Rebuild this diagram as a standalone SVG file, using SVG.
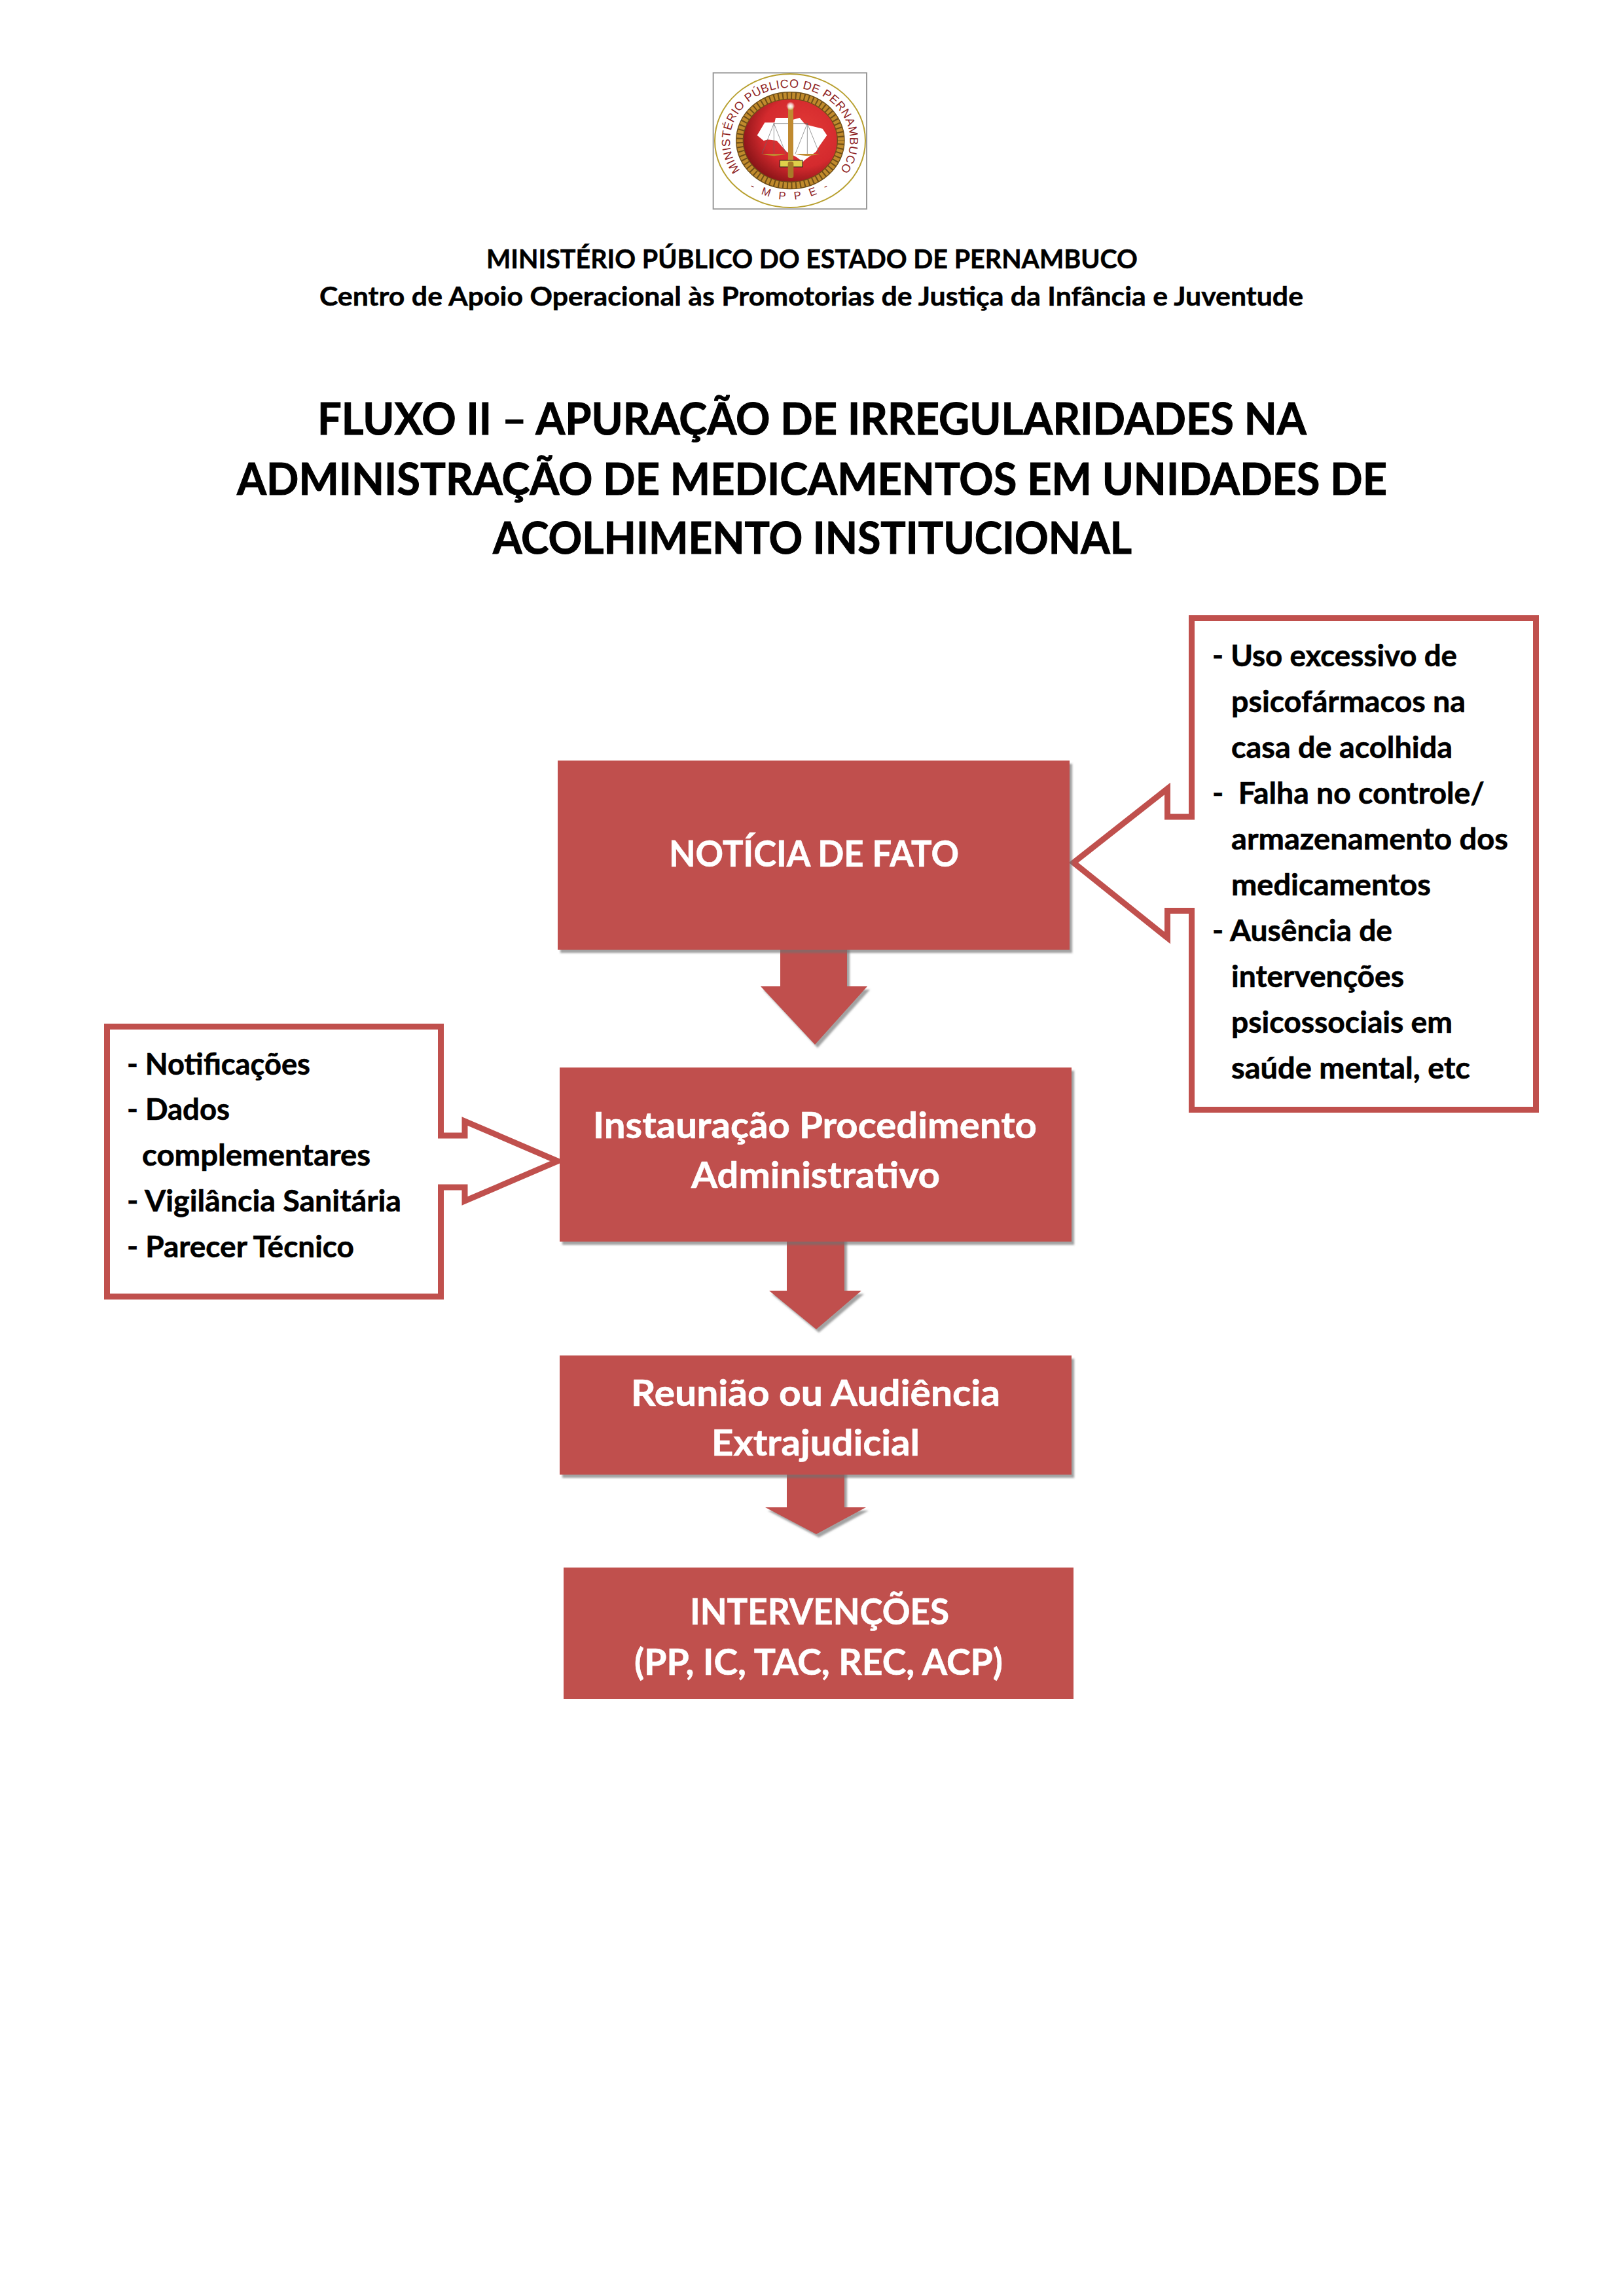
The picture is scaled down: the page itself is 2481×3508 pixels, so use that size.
<svg xmlns="http://www.w3.org/2000/svg" xmlns:xlink="http://www.w3.org/1999/xlink" width="2481" height="3508" viewBox="0 0 2481 3508">
<style>
text{font-family:"Lato","Carlito","Open Sans","Liberation Sans",sans-serif;font-weight:700}
.hd{font-size:40px;fill:#000;stroke:#000;stroke-width:.5}
.ti{font-size:66px;fill:#000;stroke:#000;stroke-width:1}
.bx{font-size:55px;fill:#fff;stroke:#fff;stroke-width:.6}
.ls{font-size:45px;fill:#000;stroke:#000;stroke-width:.6}
.box{fill:#C0504D}
.call{fill:#fff;stroke:#C0504D;stroke-width:9;stroke-linejoin:miter;stroke-miterlimit:10}
.lg{font-family:"Liberation Sans",Arial,sans-serif;font-weight:400;fill:#8f1f24}
</style>
<defs>
<filter id="sh" x="-5%" y="-5%" width="110%" height="115%"><feDropShadow dx="4" dy="5" stdDeviation="1.5" flood-color="#6f6f6f" flood-opacity="0.65"/></filter>
<radialGradient id="red" cx="0.62" cy="0.4" r="0.72"><stop offset="0" stop-color="#e23a36"/><stop offset="0.55" stop-color="#d42a2e"/><stop offset="0.85" stop-color="#8a1418"/><stop offset="1" stop-color="#3a0808"/></radialGradient>
<radialGradient id="glow"><stop offset="0" stop-color="#fff"/><stop offset="0.5" stop-color="#fff" stop-opacity="0.7"/><stop offset="1" stop-color="#fff" stop-opacity="0"/></radialGradient>
<path id="arcTop" d="M183,481 A275 243 0 1 1 610,512"/>
<path id="arcBot" d="M225,562 Q411,672 600,556"/>
</defs>
<rect width="2481" height="3508" fill="#fff"/>

<g id="logo" transform="translate(1070,100) scale(0.33333)">
<rect x="59" y="34" width="703" height="624" fill="#fff" stroke="#999" stroke-width="6"/>
<ellipse cx="411" cy="345" rx="345" ry="306" fill="#fff" stroke="#b8a030" stroke-width="6"/>
<text class="lg" font-size="54" letter-spacing="1.5"><textPath xlink:href="#arcTop" href="#arcTop">MINISTÉRIO PÚBLICO DE PERNAMBUCO</textPath></text>
<text class="lg" font-size="50" letter-spacing="14" text-anchor="middle"><textPath xlink:href="#arcBot" href="#arcBot" startOffset="50%">- M P P E -</textPath></text>
<ellipse cx="412" cy="344" rx="232" ry="206" fill="url(#red)" stroke="#6e4e18" stroke-width="36"/>
<ellipse cx="412" cy="344" rx="232" ry="206" fill="none" stroke="#c08a2c" stroke-width="28" stroke-dasharray="14 6"/>
<polygon points="260,320 295,262 340,262 345,240 405,240 420,250 455,240 480,270 560,290 580,320 545,370 530,395 480,432 470,442 440,420 395,395 350,345 310,340 290,345" fill="#fff"/>
<g fill="none" stroke="#666" stroke-width="2"><path d="M335,266H490M337,266V408M490,266V408M337,266L282,405M337,266L392,405M490,266L435,405M490,266L546,405"/></g>
<path d="M282,405Q337,425 392,405ZM435,405Q490,425 546,405Z" fill="#c08a30"/>
<rect x="402" y="185" width="24" height="255" fill="#c08a30"/>
<rect x="364" y="435" width="104" height="30" fill="#dfd04a" stroke="#222" stroke-width="3"/>
<rect x="401" y="440" width="26" height="76" rx="10" fill="#a87a28"/>
<circle cx="413" cy="186" r="20" fill="url(#glow)"/>
</g>

<g id="header">
<text class="hd" x="743" y="410" textLength="995" lengthAdjust="spacingAndGlyphs">MINISTÉRIO PÚBLICO DO ESTADO DE PERNAMBUCO</text>
<text class="hd" x="488" y="467" textLength="1503" lengthAdjust="spacingAndGlyphs">Centro de Apoio Operacional às Promotorias de Justiça da Infância e Juventude</text>
</g>
<g id="title">
<text class="ti" x="485" y="664" textLength="1511" lengthAdjust="spacingAndGlyphs">FLUXO II – APURAÇÃO DE IRREGULARIDADES NA</text>
<text class="ti" x="362" y="756" textLength="1757" lengthAdjust="spacingAndGlyphs">ADMINISTRAÇÃO DE MEDICAMENTOS EM UNIDADES DE</text>
<text class="ti" x="753" y="846" textLength="976" lengthAdjust="spacingAndGlyphs">ACOLHIMENTO INSTITUCIONAL</text>
</g>

<g id="node-causas">
<path class="call" d="M1820.5,944.5H2346.5V1695.5H1820.5V1391.5H1783.5V1433L1640,1318L1783.5,1205V1248H1820.5Z"/>
<text class="ls" x="1852" y="1018" textLength="374" lengthAdjust="spacingAndGlyphs">- Uso excessivo de</text>
<text class="ls" x="1881" y="1088" textLength="358" lengthAdjust="spacingAndGlyphs">psicofármacos na</text>
<text class="ls" x="1881" y="1158" textLength="338" lengthAdjust="spacingAndGlyphs">casa de acolhida</text>
<text class="ls" x="1852" y="1228" textLength="416" lengthAdjust="spacingAndGlyphs" xml:space="preserve">-  Falha no controle/</text>
<text class="ls" x="1881" y="1298" textLength="423" lengthAdjust="spacingAndGlyphs">armazenamento dos</text>
<text class="ls" x="1881" y="1368" textLength="305" lengthAdjust="spacingAndGlyphs">medicamentos</text>
<text class="ls" x="1852" y="1438" textLength="275" lengthAdjust="spacingAndGlyphs">- Ausência de</text>
<text class="ls" x="1881" y="1508" textLength="264" lengthAdjust="spacingAndGlyphs">intervenções</text>
<text class="ls" x="1881" y="1578" textLength="338" lengthAdjust="spacingAndGlyphs">psicossociais em</text>
<text class="ls" x="1881" y="1648" textLength="365" lengthAdjust="spacingAndGlyphs">saúde mental, etc</text>
</g>
<g id="node-fontes">
<path class="call" d="M163.5,1568.5H673.5V1735H710V1713L852,1774L710,1835V1814H673.5V1981H163.5Z"/>
<text class="ls" x="194" y="1642" textLength="280" lengthAdjust="spacingAndGlyphs">- Notificações</text>
<text class="ls" x="194" y="1711" textLength="157" lengthAdjust="spacingAndGlyphs">- Dados</text>
<text class="ls" x="217" y="1781" textLength="349" lengthAdjust="spacingAndGlyphs">complementares</text>
<text class="ls" x="194" y="1851" textLength="419" lengthAdjust="spacingAndGlyphs">- Vigilância Sanitária</text>
<text class="ls" x="194" y="1921" textLength="347" lengthAdjust="spacingAndGlyphs">- Parecer Técnico</text>
</g>

<g id="connectors" filter="url(#sh)">
<polygon class="box" points="1192,1445 1294,1445 1294,1507 1325,1507 1245,1596 1162,1507 1192,1507"/>
<polygon class="box" points="1202,1890 1290,1890 1290,1972 1316,1972 1247,2031 1175,1972 1202,1972"/>
<polygon class="box" points="1202,2245 1290,2245 1290,2303 1323,2303 1247,2344 1169,2303 1202,2303"/>
</g>

<g id="node-noticia">
<rect class="box" x="852" y="1162" width="782" height="289" filter="url(#sh)"/>
<text class="bx" x="1022" y="1324" textLength="443" lengthAdjust="spacingAndGlyphs">NOTÍCIA DE FATO</text>
</g>
<g id="node-instauracao">
<rect class="box" x="855" y="1631" width="782" height="266" filter="url(#sh)"/>
<text class="bx" x="906" y="1739" textLength="678" lengthAdjust="spacingAndGlyphs">Instauração Procedimento</text>
<text class="bx" x="1056" y="1815" textLength="380" lengthAdjust="spacingAndGlyphs">Administrativo</text>
</g>
<g id="node-reuniao">
<rect class="box" x="855" y="2071" width="782" height="182" filter="url(#sh)"/>
<text class="bx" x="964" y="2148" textLength="564" lengthAdjust="spacingAndGlyphs">Reunião ou Audiência</text>
<text class="bx" x="1087" y="2224" textLength="318" lengthAdjust="spacingAndGlyphs">Extrajudicial</text>
</g>
<g id="node-intervencoes">
<rect class="box" x="861" y="2395" width="779" height="201"/>
<text class="bx" x="1054" y="2482" textLength="396" lengthAdjust="spacingAndGlyphs">INTERVENÇÕES</text>
<text class="bx" x="969" y="2559" textLength="563" lengthAdjust="spacingAndGlyphs">(PP, IC, TAC, REC, ACP)</text>
</g>
</svg>
